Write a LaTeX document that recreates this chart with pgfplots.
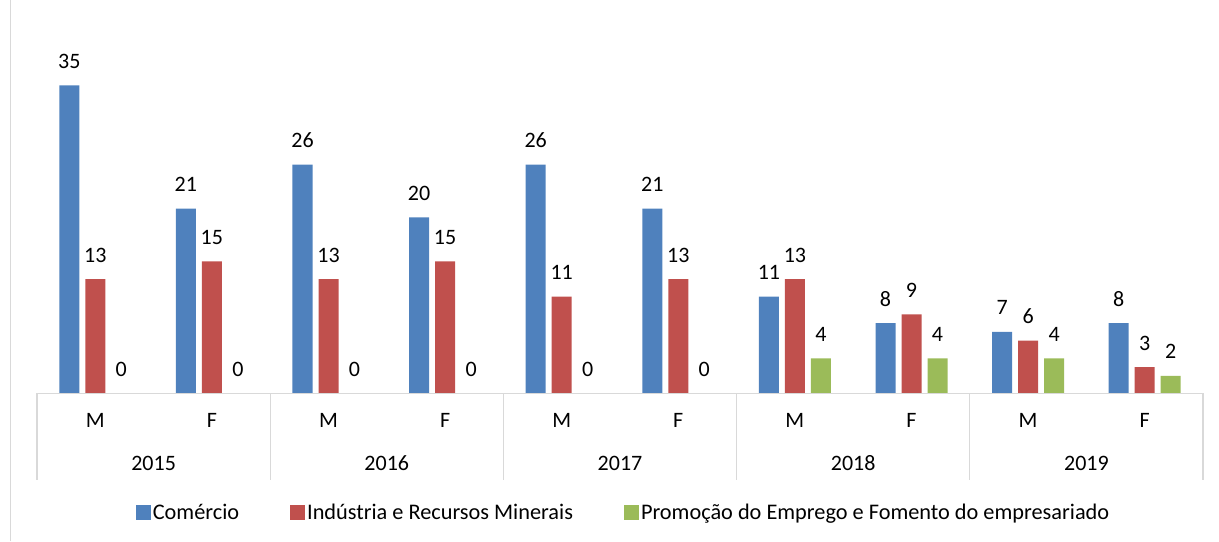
\documentclass[border=0pt]{standalone}
\usepackage{pgfplots}
\pgfplotsset{compat=1.18}
\usepackage{fontspec}
\setmainfont{Carlito}
\definecolor{cblue}{HTML}{4F81BD}
\definecolor{cred}{HTML}{C0504D}
\definecolor{cgreen}{HTML}{9BBB59}
\definecolor{lgray}{HTML}{D9D9D9}
\begin{document}
\begin{tikzpicture}[x=1bp,y=1bp]
\path (0,0) rectangle (1219,541);
\draw[lgray, line width=1bp] (10,0) -- (10,541);
\begin{axis}[
  at={(37bp,148bp)}, anchor=south west,
  scale only axis, width=1166bp, height=369.6bp,
  ymin=0, ymax=42, xmin=-0.5, xmax=9.5,
  ybar=6bp, bar width=20bp,
  axis line style={draw=none},
  ytick=\empty,
  xtick={0,...,9},
  xticklabels={M,F,M,F,M,F,M,F,M,F},
  major tick length=0pt,
  xticklabel style={anchor=base, yshift=-34bp},
  clip=false,
  font=\fontsize{22bp}{26bp}\selectfont,
  /pgf/number format/assume math mode=true,
  nodes near coords,
  every node near coord/.append style={anchor=base, yshift=17bp, text=black, font=\fontsize{22bp}{26bp}\selectfont},
  legend style={at={(0.503,-0.322)}, anchor=center, legend columns=3, draw=none,
    font=\fontsize{22.3bp}{26bp}\selectfont,
    nodes={inner sep=2bp},
    /tikz/every even column/.append style={column sep=49bp}},
  legend image code/.code={\fill[#1] (0bp,-7.5bp) rectangle (15bp,7.5bp);},
]
\addplot[fill=cblue, draw=none] coordinates {(0,35) (1,21) (2,26) (3,20) (4,26) (5,21) (6,11) (7,8) (8,7) (9,8)};
\addplot[fill=cred, draw=none] coordinates {(0,13) (1,15) (2,13) (3,15) (4,11) (5,13) (6,13) (7,9) (8,6) (9,3)};
\addplot[fill=cgreen, draw=none] coordinates {(0,0) (1,0) (2,0) (3,0) (4,0) (5,0) (6,4) (7,4) (8,4) (9,2)};
\legend{Comércio, Indústria e Recursos Minerais, Promoção do Emprego e Fomento do empresariado}
\draw[lgray, line width=1.2bp] (axis cs:-0.5,0) -- (axis cs:9.5,0);
\pgfplotsinvokeforeach{-0.5,1.5,3.5,5.5,7.5,9.5}{
  \draw[lgray, line width=1.2bp] (axis cs:#1,0) -- ++(0bp,-87bp);
}
\node[anchor=base] at (axis cs:0.5,0) [yshift=-77bp] {2015};
\node[anchor=base] at (axis cs:2.5,0) [yshift=-77bp] {2016};
\node[anchor=base] at (axis cs:4.5,0) [yshift=-77bp] {2017};
\node[anchor=base] at (axis cs:6.5,0) [yshift=-77bp] {2018};
\node[anchor=base] at (axis cs:8.5,0) [yshift=-77bp] {2019};
\end{axis}
\end{tikzpicture}
\end{document}
